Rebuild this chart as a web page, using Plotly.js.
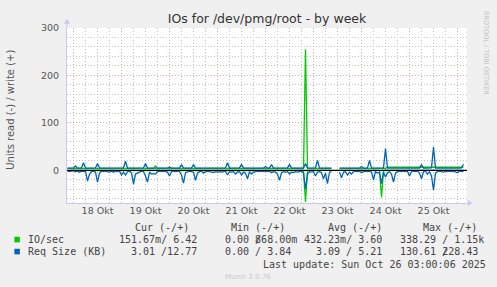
<!DOCTYPE html>
<html><head><meta charset="utf-8">
<script src="https://cdn.plot.ly/plotly-3.0.1.min.js"></script>
<style>html,body{margin:0;padding:0;background:#f0f0f0;}#chart{width:497px;height:287px;}</style>
</head><body><div id="chart"></div>
<script>
// hourly samples starting 2025-10-17 21:00, 199 points
const startHourUTC = Date.UTC(2025, 9, 17, 21);
const dayLabels = ['18 Okt','19 Okt','20 Okt','21 Okt','22 Okt','23 Okt','24 Okt','25 Okt'];
const dayNoons = ['2025-10-18 12:00','2025-10-19 12:00','2025-10-20 12:00','2025-10-21 12:00','2025-10-22 12:00','2025-10-23 12:00','2025-10-24 12:00','2025-10-25 12:00'];
const midnights = ['2025-10-18','2025-10-19','2025-10-20','2025-10-21','2025-10-22','2025-10-23','2025-10-24','2025-10-25','2025-10-26'];

// Req Size (KB) read (plotted negative)
const reqRead = [
 2,3,2,1,3,2,4,2,3,2,23,8,3,2,4,25,6,2,3,2,3,4,2,4,
 2,3,2,10,4,10,3,2,6,29,8,6,3,2,3,12,25,4,8,7,8,3,2,3,
 2,3,4,12,3,2,3,2,3,10,27,5,3,2,3,4,21,6,3,2,6,3,2,3,
 4,5,3,4,3,4,3,2,10,3,4,3,8,4,3,10,4,6,18,3,8,4,3,2,
 3,2,3,2,3,2,5,3,4,8,21,5,3,4,3,8,4,5,3,4,3,2,6,40,
 8,3,4,3,12,4,3,5,18,6,28,4,3,null,null,null,4,16,4,3,10,4,8,3,
 2,3,2,5,3,2,3,2,4,20,3,6,4,28,4,14,5,3,8,25,6,3,2,3,
 2,3,2,12,3,2,3,2,6,18,3,2,8,3,12,42,6,3,2,3,4,2,3,2,
 3,2,3,5,2,3,3.01];
// Req Size (KB) write
const reqWrite = [
 4.5,4.6,4.4,4.5,9,4.6,4.4,5,16,5,4.5,4.3,4.6,4.5,5,14,4.8,4.4,4.5,4.6,4.4,4.5,4.6,4.5,
 4.4,4.6,4.5,4.7,5,19,4.8,4.5,4.6,4.3,4.5,4.7,4.4,4.6,5,14,4.6,4.5,4.4,4.6,4.5,4.7,4.4,4.5,
 4.5,4.6,4.4,7,4.5,4.6,4.4,4.5,4.7,12,4.6,4.4,4.5,4.6,4.5,12,4.6,4.4,4.5,4.7,4.4,4.6,4.5,4.4,
 4.5,4.6,4.4,4.5,4.7,4.4,4.6,5,16,4.6,4.5,4.4,4.6,4.5,5,12,4.6,4.4,4.5,4.6,4.5,4.4,4.6,4.5,
 4.5,4.6,4.4,8,4.5,4.6,12,4.5,4.4,4.6,4.5,4.4,4.6,4.5,5,12,4.6,4.4,4.5,4.6,4.4,4.5,4.6,14,
 5,4.5,4.4,4.6,5,21,4.6,4.5,4.4,4.6,4.5,4.4,4.6,null,null,null,4.5,4.4,4.6,4.5,4.4,4.6,4.5,4.4,
 4.5,4.6,4.4,8,4.5,4.6,5,21,4.6,4.5,4.4,4.6,4.5,4.4,5,46,4.6,4.5,4.4,4.6,4.5,4.4,4.6,4.5,
 4.4,4.6,4.5,4.4,4.6,4.5,4.4,4.6,4.5,12,4.6,4.4,4.5,4.6,5,49,4.6,4.5,4.4,4.6,4.5,4.4,4.6,4.5,
 4.6,4.4,4.5,4.6,4.5,5,12.77];
// IO/sec write
const ioWrite = [
 4,4.1,3.9,4,4.2,4,3.9,4.1,4,4,3.9,4.1,4,4.2,4,3.9,4,4.1,4,3.9,4,4.1,4,4,
 4,4.1,3.9,4,4.2,4,3.9,4.1,4,4,3.9,4.1,4,4.2,4,3.9,4,4.1,4,3.9,9,4.1,4,4,
 4,4.1,3.9,4,4.2,4,3.9,4.1,4,4,3.9,4.1,4,4.2,4,3.9,4,4.1,4,3.9,4,4.1,4,4,
 4,4.1,3.9,4,4.2,4,3.9,4.1,4,4,3.9,4.1,4,4.2,4,3.9,4,4.1,4,3.9,4,4.1,4,4,
 4,4.1,3.9,4,4.2,4,3.9,4.1,4,4,3.9,4.1,4,4.2,4,3.9,4,4.1,4,3.9,4,4.1,4,255,
 4,4.1,3.9,4,4.2,4,3.9,4.1,4,4,3.9,4.1,4,null,null,null,4,4.1,4,3.9,4,4.1,4,4,
 4,4.1,3.9,4,4.2,4,3.9,4.1,4,4,3.9,4.1,4,4.2,4,3.9,6.4,6.5,6.4,6.3,6.4,6.5,6.4,6.4,
 6.4,6.5,6.3,6.4,6.5,6.4,6.3,6.5,6.4,6.4,6.3,6.5,6.4,6.5,6.4,6.3,6.4,6.5,6.4,6.3,6.4,6.5,6.4,6.4,
 6.4,6.5,6.3,6.4,6.5,6.4,6.42];
// IO/sec read (plotted negative)
const ioRead = [
 0.4,0.5,0.3,0.4,0.4,0.5,0.3,0.4,0.4,0.5,0.3,0.4,0.4,0.5,0.3,0.4,0.4,0.5,0.3,0.4,0.4,0.5,0.3,0.4,
 0.4,0.5,0.3,0.4,0.4,0.5,0.3,0.4,0.4,0.5,0.3,0.4,0.4,0.5,0.3,0.4,0.4,0.5,0.3,0.4,0.4,0.5,0.3,0.4,
 0.4,0.5,0.3,0.4,0.4,0.5,0.3,0.4,0.4,0.5,0.3,0.4,0.4,0.5,0.3,0.4,0.4,0.5,0.3,0.4,0.4,0.5,0.3,0.4,
 0.4,0.5,0.3,0.4,0.4,0.5,0.3,0.4,0.4,0.5,0.3,0.4,0.4,0.5,0.3,0.4,0.4,0.5,0.3,0.4,0.4,0.5,0.3,0.4,
 0.4,0.5,0.3,0.4,0.4,0.5,0.3,0.4,0.4,0.5,0.3,0.4,0.4,0.5,0.3,0.4,0.4,0.5,0.3,0.4,0.4,0.5,0.3,67,
 0.4,0.5,0.3,0.4,0.4,0.5,0.3,0.4,0.4,0.5,0.3,0.4,0.4,null,null,null,0.4,0.5,0.3,0.4,0.4,0.5,0.3,0.4,
 0.4,0.5,0.3,0.4,0.4,0.5,0.3,0.4,0.4,0.5,0.3,0.4,0.4,57,0.4,0.5,0.3,0.4,0.4,0.5,0.3,0.4,0.4,0.5,
 0.3,0.4,0.4,0.5,0.3,0.4,0.4,0.5,0.3,0.4,0.4,0.5,0.3,0.4,0.4,0.5,0.3,0.4,0.4,0.5,0.3,0.4,0.4,0.5,
 0.3,0.4,0.4,0.5,0.3,0.4,0.15];

const yTicks = [0, 100, 200, 300];
const legendRows = [
  {name:'IO/sec', color:'#00cc00', cur:'151.67m/ 6.42', min:'0.00 868.00m', avg:'432.23m/ 3.60', max:'338.29 / 1.15k'},
  {name:'Req Size (KB)', color:'#0066b3', cur:'3.01 /12.77', min:'0.00 / 3.84', avg:'3.09 / 5.21', max:'130.61 228.43'}
];

const times = ioWrite.map((_, h) => new Date(startHourUTC + h*3600000).toISOString().slice(0,16).replace('T',' '));
const neg = a => a.map(v => v == null ? null : -v);

const traces = [
  {x: times, y: neg(ioRead), mode:'lines', line:{color:'#00cc00', width:1.3}, hoverinfo:'skip'},
  {x: times, y: ioWrite, mode:'lines', line:{color:'#00cc00', width:1.3}, hoverinfo:'skip'},
  {x: times, y: neg(reqRead), mode:'lines', line:{color:'#0066b3', width:1.3}, hoverinfo:'skip'},
  {x: times, y: reqWrite, mode:'lines', line:{color:'#0066b3', width:1.3}, hoverinfo:'skip'},
  {x: [dayNoons[0]], y: [null], xaxis:'x2', mode:'lines', hoverinfo:'skip'}
];

const L = 66.7, R = 467.3, T = 28.3, B = 203;
const W = 497, H = 287;
const px = x => (x - L) / (R - L);
const py = y => (B - y) / (B - T);
const range = ['2025-10-17 20:45', '2025-10-26 04:45'];
const mono = {family:'DejaVu Sans Mono', size:10, color:'#444'};

const ann = [];
function txt(text, x, y, font, xanchor){ ann.push({text, x:px(x), y:py(y), xref:'paper', yref:'paper', xanchor:xanchor||'left', yanchor:'middle', showarrow:false, borderpad:0, font}); }
txt('Cur (-/+)', 134.3, 227.5, mono);
txt('Min (-/+)', 230, 227.5, mono);
txt('Avg (-/+)', 326.7, 227.5, mono);
txt('Max (-/+)', 422.7, 227.5, mono);
const rowY = [239.5, 251.5];
const shapes = [];
legendRows.forEach((r, i) => {
  const y = rowY[i];
  txt(r.name, 26.7, y, mono);
  txt(r.cur, 197.5, y, mono, 'right');
  txt(r.min, 224, y, mono);
  txt(r.avg, 383.5, y, mono, 'right');
  txt(r.max, 399, y, mono);
  shapes.push({type:'rect', xref:'paper', yref:'paper', x0:px(14), x1:px(19.5), y0:py(y+2.8), y1:py(y-2.8), fillcolor:r.color, line:{width:0}});
});
txt('/', 254, rowY[0], mono);
txt('/', 441, rowY[1], mono);
txt('Last update: Sun Oct 26 03:00:06 2025', 261.7, 264, mono);
txt('Munin 2.0.76', 248, 276.5, {family:'DejaVu Sans', size:7, color:'#c8c8c8'}, 'center');
ann.push({text:'Units read (-) / write (+)', x:px(10.5), y:py(110), xref:'paper', yref:'paper', textangle:-90, showarrow:false, xanchor:'center', yanchor:'middle', font:{family:'DejaVu Sans', size:10, color:'#555'}});
ann.push({text:'RRDTOOL / TOBI OETIKER', x:px(487), y:py(53), xref:'paper', yref:'paper', textangle:90, showarrow:false, xanchor:'center', yanchor:'middle', font:{family:'DejaVu Sans', size:6.5, color:'#c0c0c0'}});

// zero rule drawn over the data, as Munin does
shapes.push({type:'line', xref:'paper', yref:'y', x0:0, x1:1, y0:0, y1:0, layer:'above', line:{color:'#000', width:1.3}});
// axis arrows
const ac = '#c8c8f0';
shapes.push({type:'line', xref:'paper', yref:'paper', x0:0, x1:0, y0:1, y1:py(21), line:{color:ac, width:1}});
shapes.push({type:'path', xref:'paper', yref:'paper', path:`M ${px(63.7)} ${py(24)} L ${px(69.7)} ${py(24)} L ${px(66.7)} ${py(19)} Z`, fillcolor:ac, line:{width:0}});
shapes.push({type:'line', xref:'paper', yref:'paper', x0:1, x1:px(471), y0:0, y1:0, line:{color:ac, width:1}});
shapes.push({type:'path', xref:'paper', yref:'paper', path:`M ${px(468)} ${py(200)} L ${px(468)} ${py(206)} L ${px(473)} ${py(203)} Z`, fillcolor:ac, line:{width:0}});

const majorGrid = '#e0a8a8', minorGrid = '#c4c4c4', gdash = '1px,2px';
const layout = {
  width: W, height: H, autosize:false,
  paper_bgcolor:'#f0f0f0', plot_bgcolor:'#ffffff',
  margin:{l:L, r:W-R, t:T, b:H-B, pad:0},
  showlegend:false,
  title:{text:'IOs for /dev/pmg/root - by week', x:0.5, xref:'paper', xanchor:'center', y:1-18.5/H, yanchor:'middle', font:{family:'DejaVu Sans', size:12.5, color:'#333'}},
  xaxis:{type:'date', range:range, tickmode:'array', tickvals:midnights, showticklabels:false, ticks:'',
    showgrid:true, gridcolor:majorGrid, griddash:gdash, gridwidth:1, zeroline:false,
    showline:true, linecolor:ac, linewidth:1,
    minor:{tickmode:'linear', tick0:'2025-10-17', dtick:6*3600*1000, showgrid:true, gridcolor:minorGrid, griddash:gdash, gridwidth:1, ticks:''}},
  xaxis2:{type:'date', overlaying:'x', side:'bottom', range:range, tickmode:'array', tickvals:dayNoons, ticktext:dayLabels,
    showgrid:false, ticks:'', zeroline:false, showline:false, tickfont:{family:'DejaVu Sans', size:9.5, color:'#555'}},
  yaxis:{range:[-69, 300], tickmode:'array', tickvals:yTicks, ticktext:yTicks.map(String),
    showgrid:true, gridcolor:majorGrid, griddash:gdash, gridwidth:1,
    zeroline:false,
    showline:true, linecolor:ac, linewidth:1, ticks:'', ticklabelstandoff:5,
    tickfont:{family:'DejaVu Sans', size:9.5, color:'#555'},
    minor:{tickmode:'linear', tick0:0, dtick:20, showgrid:true, gridcolor:minorGrid, griddash:gdash, gridwidth:1, ticks:''}},
  annotations: ann,
  shapes: shapes
};
Plotly.newPlot('chart', traces, layout, {staticPlot:true, displayModeBar:false});
</script></body></html>
